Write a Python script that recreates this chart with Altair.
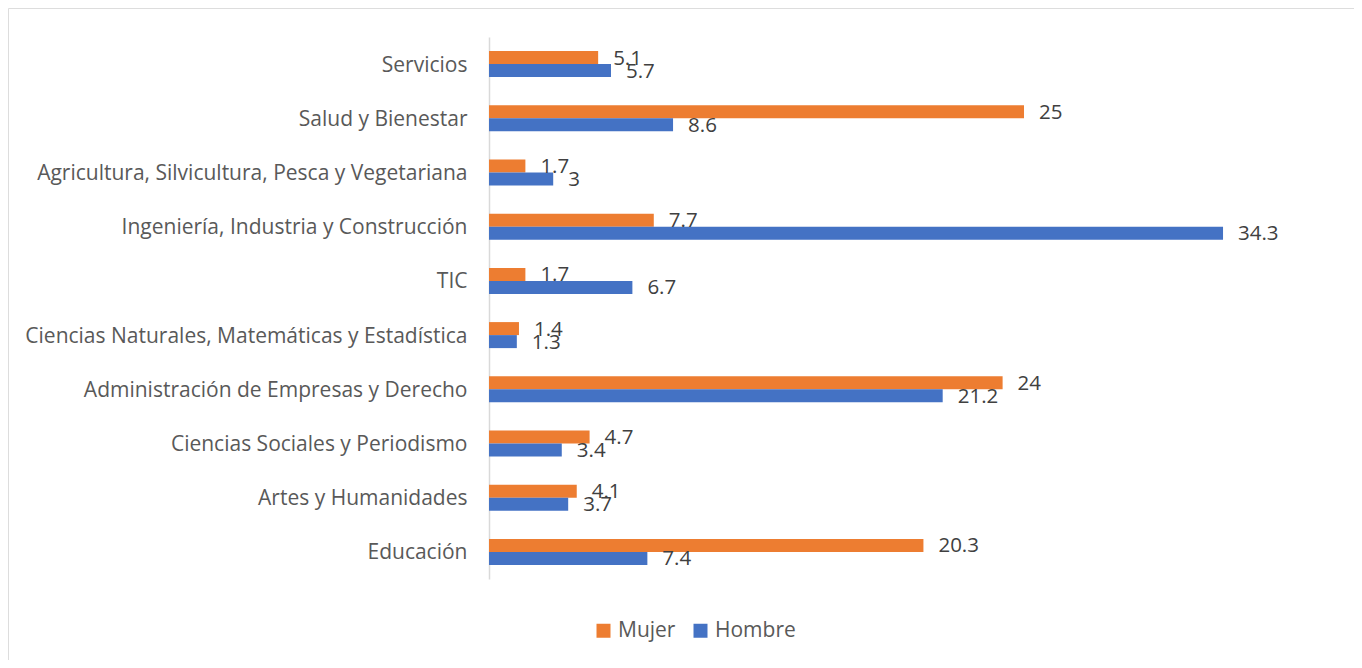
import altair as alt
import pandas as pd

categories = [
    "Servicios",
    "Salud y Bienestar",
    "Agricultura, Silvicultura, Pesca y Vegetariana",
    "Ingeniería, Industria y Construcción",
    "TIC",
    "Ciencias Naturales, Matemáticas y Estadística",
    "Administración de Empresas y Derecho",
    "Ciencias Sociales y Periodismo",
    "Artes y Humanidades",
    "Educación",
]
mujer = [5.1, 25, 1.7, 7.7, 1.7, 1.4, 24, 4.7, 4.1, 20.3]
hombre = [5.7, 8.6, 3, 34.3, 6.7, 1.3, 21.2, 3.4, 3.7, 7.4]
series = ["Mujer", "Hombre"]
colors = ["#ED7D31", "#4472C4"]

rows = []
for c, m, h in zip(categories, mujer, hombre):
    rows.append({"cat": c, "serie": "Mujer", "v": m})
    rows.append({"cat": c, "serie": "Hombre", "v": h})
df = pd.DataFrame(rows)

FONT = "Open Sans"

x = alt.X("v:Q", axis=None, scale=alt.Scale(domain=[-22.477, 40.42], nice=False, zero=False))
y = alt.Y(
    "cat:N",
    sort=categories,
    title=None,
    scale=alt.Scale(range=[29, 571], paddingInner=0.52, paddingOuter=0.26),
    axis=alt.Axis(
        offset=-481,
        domainColor="#D9D9D9",
        domainWidth=1.5,
        ticks=False,
        grid=False,
        labelPadding=22,
        labelOffset=1.5,
        labelFont=FONT,
        labelFontSize=21,
        labelColor="#595959",
        labelLimit=800,
    ),
)
yoff = alt.YOffset("serie:N", sort=series, scale=alt.Scale(domain=series, paddingInner=0, paddingOuter=0))

color = alt.Color(
    "serie:N",
    scale=alt.Scale(domain=series, range=colors),
    legend=alt.Legend(
        title=None,
        orient="none",
        legendX=585,
        legendY=612,
        direction="horizontal",
        symbolType="square",
        symbolSize=196,
        symbolStrokeWidth=0,
        labelFont=FONT,
        labelFontSize=21,
        labelColor="#595959",
        labelOffset=4,
        columnPadding=14,
    ),
)

bars = alt.Chart(df).mark_bar().encode(x=x, y=y, yOffset=yoff, color=color)
labels = alt.Chart(df).mark_text(
    align="left", baseline="middle", dx=15, dy=1, font=FONT, fontSize=20.5, color="#404040"
).encode(x=x, y=y, yOffset=yoff, text=alt.Text("v:Q", format=".1~f"))

chart = (
    alt.layer(bars, labels)
    .properties(width=1346, height=652, padding=0, autosize=alt.AutoSizeParams(type="none"))
    .configure_view(stroke="#D9D9D9", strokeWidth=1.5)
    .configure(background="white")
)

chart.save("out.html", embed_options={"renderer": "svg", "actions": False})
